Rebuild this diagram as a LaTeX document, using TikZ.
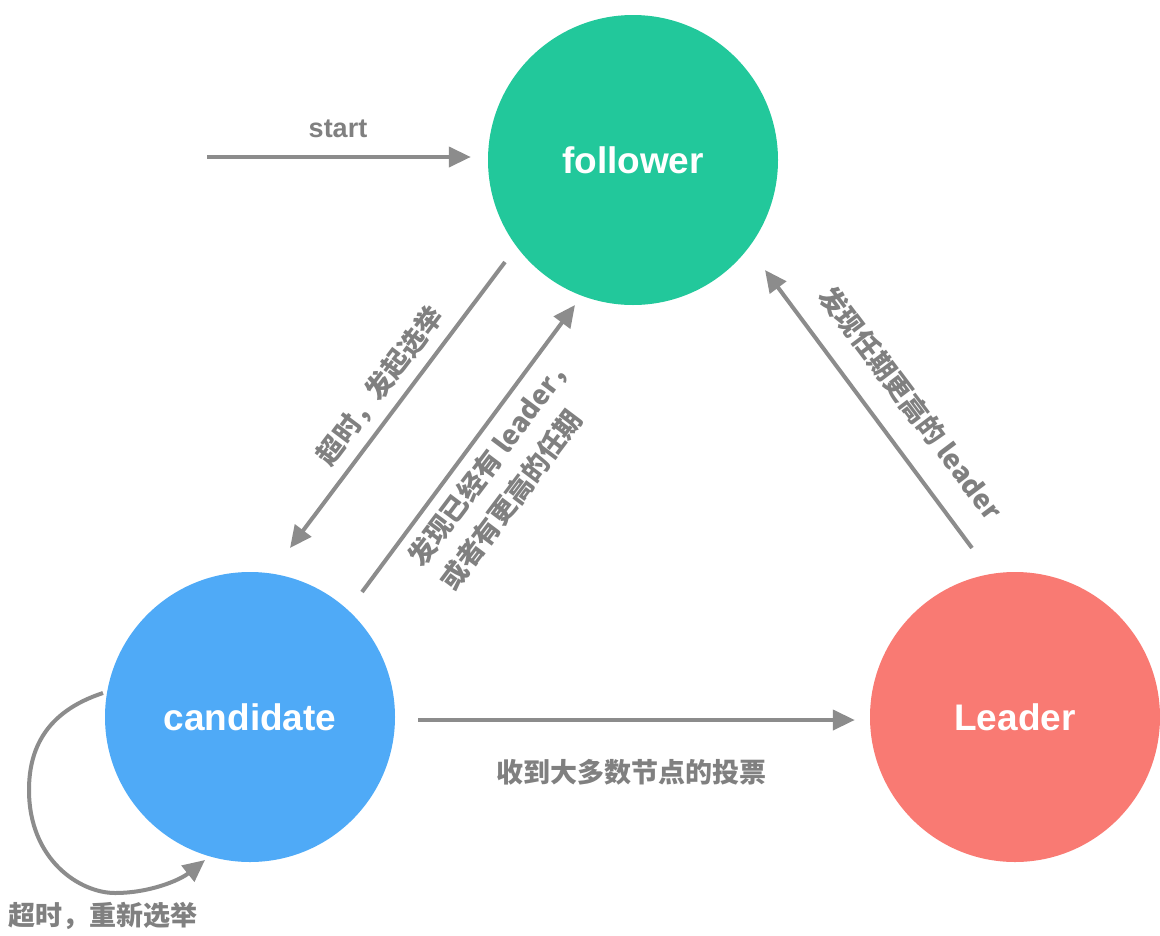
\documentclass[tikz,border=0pt]{standalone}
\usepackage{fontspec}
\setmainfont{Liberation Sans}
\newfontfamily\cjk{Noto Sans CJK SC}
\usetikzlibrary{arrows.meta,calc}
\definecolor{fcol}{RGB}{34,200,155}
\definecolor{ccol}{RGB}{79,170,247}
\definecolor{lcol}{RGB}{249,122,115}
\definecolor{arrowgray}{RGB}{140,140,140}
\definecolor{labelgray}{RGB}{128,128,128}
\begin{document}
\begin{tikzpicture}[x=1pt,y=-1pt,
  state/.style={circle,minimum size=290pt,inner sep=0pt,text=white,
    font=\fontsize{37}{40}\selectfont\bfseries},
  arr/.style={draw=arrowgray,line width=4pt,-{Triangle[length=22pt,width=20pt]}},
  lbl/.style={text=labelgray,font=\cjk\bfseries\fontsize{27}{40}\selectfont,inner sep=0pt},
  lat/.style={text=labelgray,font=\bfseries\fontsize{27}{30}\selectfont,inner sep=0pt}]
\fill[white] (0,0) rectangle (1160,935);
\useasboundingbox (0,0) rectangle (1160,935);

\node[state,fill=fcol] (follower) at (633,160) {follower};
\node[state,fill=ccol] (candidate) at (250,717) {candidate};
\node[state,fill=lcol] (leader) at (1015,717) {Leader};

% start
\coordinate (s) at (207,157);
\draw[arr] (s) -- ($(follower.west)+(-17,-3)$);
\node[lat] (startlbl) at (338,129) {start};

% follower -> candidate
\draw[arr] ($(follower)+(-128,102)$) -- ($(candidate)+(40,-169)$);
\node[lbl,rotate=53] (l1) at (380,386) {超时，发起选举};

% candidate -> follower
\draw[arr] ($(candidate)+(112,-125)$) -- ($(follower)+(-58,145)$);
\node[lbl,rotate=53,align=left] (l2) at (507,472) {发现已经有 leader，\\或者有更高的任期};

% leader -> follower
\draw[arr] ($(leader)+(-43,-169)$) -- ($(follower)+(132,110)$);
\node[lbl,rotate=-53] (l3) at (911,403) {发现任期更高的 leader};

% candidate -> leader
\draw[arr] ($(candidate.east)+(23,3)$) -- ($(leader.west)+(-15,3)$);
\node[lbl] (l4) at (631,772) {收到大多数节点的投票};

% self loop
\draw[arr] ($(candidate)+(-147,-24)$) .. controls (45,712) and (29,750) .. (29,790)
   .. controls (29,860) and (80,893) .. (115,893)
   .. controls (150,893) and (180,880) .. ($(candidate)+(-45,143)$);
\node[lbl] (l5) at (103,916) {超时，重新选举};
\end{tikzpicture}
\end{document}
